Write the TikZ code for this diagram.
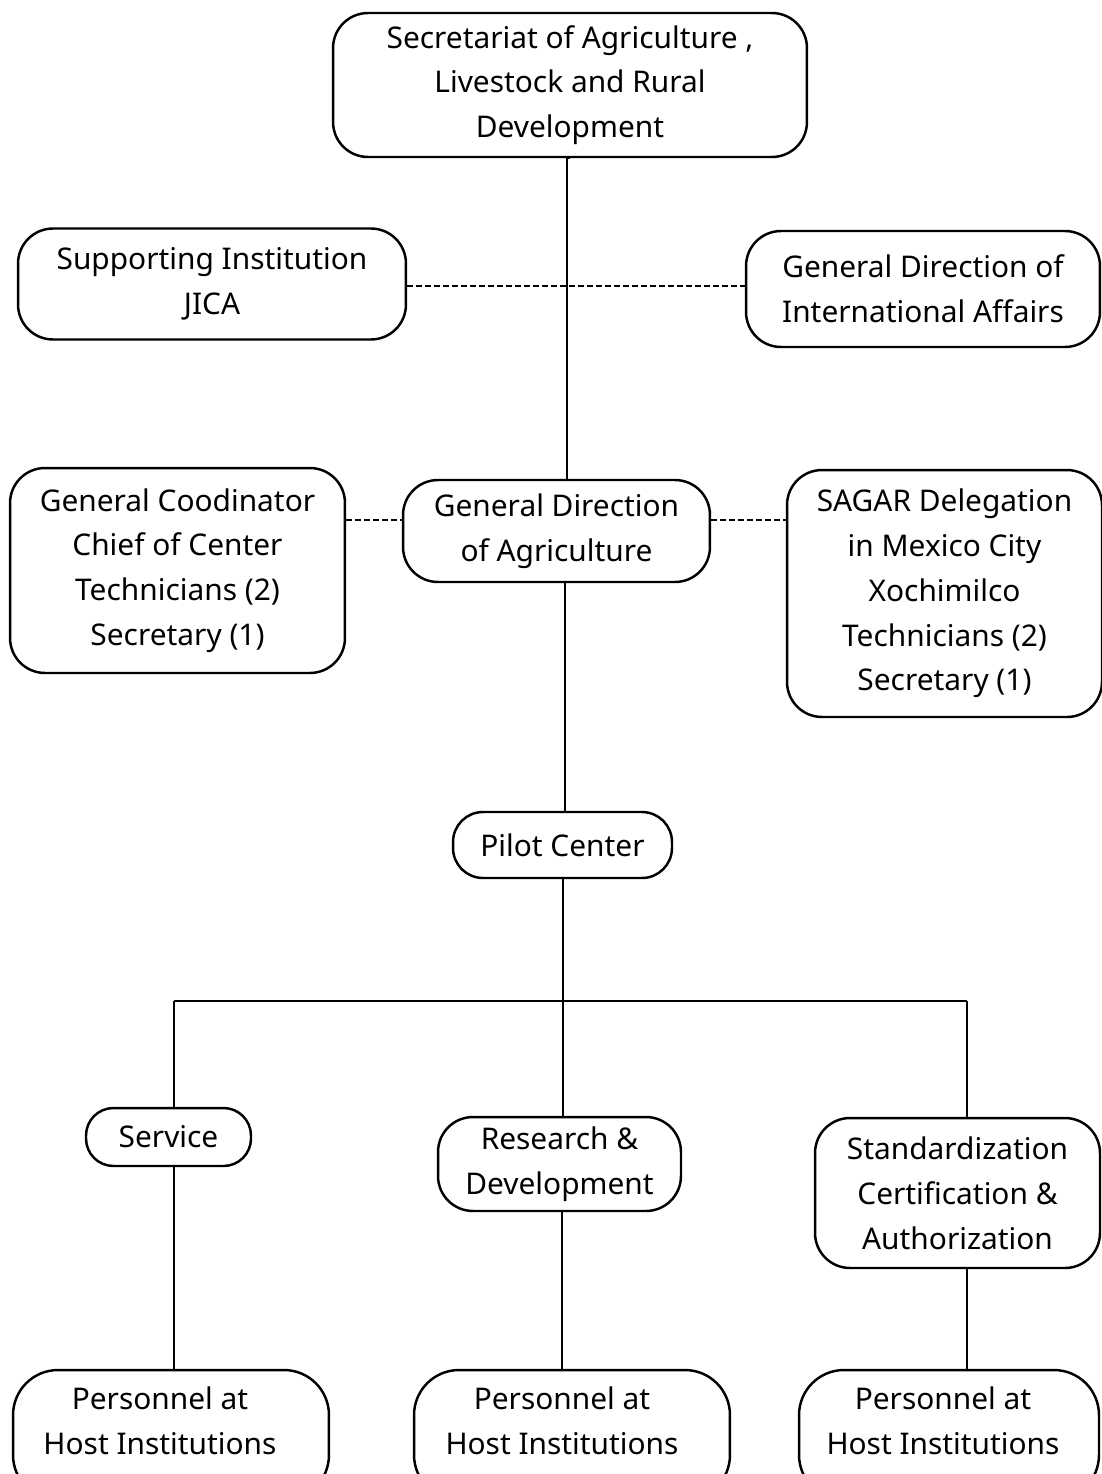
\documentclass[tikz,border=0pt]{standalone}
\usepackage{fontspec}
\setmainfont{Noto Sans}
\usetikzlibrary{positioning}
\tikzset{
	orgbox/.style={draw, line width=1.4pt, rounded corners=0.7cm, align=center,
		font=\fontsize{17}{25.5}\selectfont, inner sep=0pt},
	pillbox/.style={orgbox, rounded corners=0.6cm},
	hostbox/.style={orgbox, minimum height=2.6cm, rounded corners=0.9cm},
	hosttext/.style={align=center, font=\fontsize{17}{25.5}\selectfont},
	link/.style={line width=1.4pt},
	dashline/.style={line width=1pt, dash pattern=on 0.12cm off 0.06cm}
}

\begin{document}
\begin{tikzpicture}[x=0.02cm, y=-0.02cm]
	\useasboundingbox (0,0) rectangle (1102,1474);
	\clip (0,0) rectangle (1102,1474);

	\node[orgbox, minimum width=9.48cm, minimum height=2.88cm] (sagarpa) at (570,85)
		{Secretariat of Agriculture ,\\ Livestock and Rural\\ Development};
	\node[orgbox, minimum width=7.76cm, minimum height=2.22cm] (jica) at (212,284)
		{Supporting Institution\\ JICA};
	\node[orgbox, minimum width=7.08cm, minimum height=2.32cm] (intl) at (923,289)
		{General Direction of\\ International Affairs};
	\node[orgbox, minimum width=6.7cm, minimum height=4.1cm] (coord) at (177.5,570.5)
		{General Coodinator\\ Chief of Center\\ Technicians (2)\\ Secretary (1)};
	\node[orgbox, minimum width=6.14cm, minimum height=2.04cm] (agri) at (556.5,531)
		{General Direction\\ of Agriculture};
	\node[orgbox, minimum width=6.3cm, minimum height=4.94cm] (deleg) at (944.5,593.5)
		{SAGAR Delegation\\ in Mexico City\\ Xochimilco\\ Technicians (2)\\ Secretary (1)};
	\node[pillbox, minimum width=4.38cm, minimum height=1.32cm] (pilot) at (562.5,845)
		{Pilot Center};
	\node[pillbox, minimum width=3.3cm, minimum height=1.16cm, rounded corners=0.55cm] (service) at (168.5,1137)
		{Service};
	\node[orgbox, minimum width=4.86cm, minimum height=1.88cm] (resdev) at (559.5,1164)
		{Research \&\\ Development};
	\node[orgbox, minimum width=5.7cm, minimum height=3cm] (stand) at (957.5,1193)
		{Standardization\\ Certification \&\\ Authorization};
	\node[hostbox, minimum width=6.32cm] (hostA) at (171,1435) {};
	\node[hostbox, minimum width=6.32cm] (hostB) at (572,1435) {};
	\node[hostbox, minimum width=6cm] (hostC) at (949,1435) {};
	\node[hosttext] (hostAtext) at (160,1421) {Personnel at\\ Host Institutions};
	\node[hosttext] (hostBtext) at (562,1421) {Personnel at\\ Host Institutions};
	\node[hosttext] (hostCtext) at (943,1421) {Personnel at\\ Host Institutions};

	\coordinate (busL) at (174,1001);
	\coordinate (busM) at (563,1001);
	\coordinate (busR) at (967,1001);

	\draw[link] (sagarpa.south) -- (sagarpa.south -| 567,0) -- (agri.north -| 567,0);
	\draw[link] (agri.south -| 565,0) -- (pilot.north -| 565,0);
	\draw[link] (pilot.south -| busM) -- (busM) -- (resdev.north -| busM);
	\draw[link] (busL) -- (busR);
	\draw[link] (busL) -- (service.north -| busL);
	\draw[link] (busR) -- (stand.north -| busR);
	\draw[link] (service.south -| busL) -- (hostA.north -| busL);
	\draw[link] (resdev.south -| 562,0) -- (hostB.north -| 562,0);
	\draw[link] (stand.south -| busR) -- (hostC.north -| busR);

	\draw[dashline] (jica.east |- 0,286) -- (intl.west |- 0,286);
	\draw[dashline] (coord.east |- 0,520) -- (agri.west |- 0,520);
	\draw[dashline] (agri.east |- 0,520) -- (deleg.west |- 0,520);
\end{tikzpicture}
\end{document}
